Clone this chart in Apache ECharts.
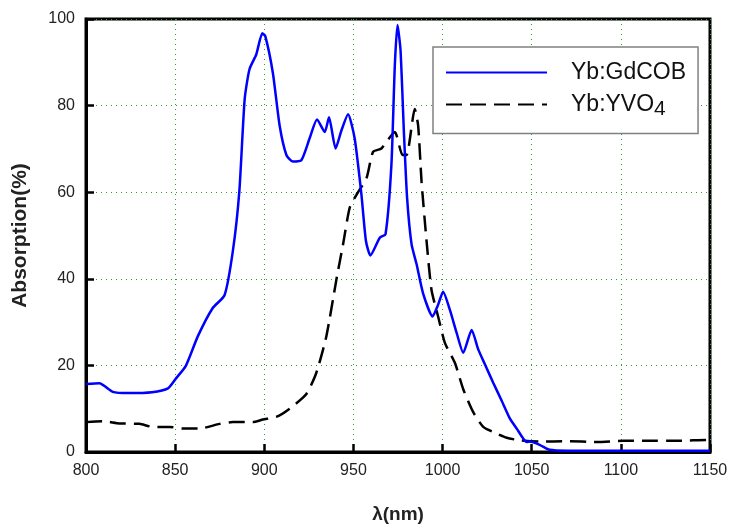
<!DOCTYPE html>
<html>
<head>
<meta charset="utf-8">
<script src="https://cdn.jsdelivr.net/npm/echarts@6/dist/echarts.min.js"></script>
<style>html,body{margin:0;padding:0;background:#fff}#c{width:731px;height:529px}</style>
</head>
<body>
<div id="c"></div>
<script>
// Wavelength (nm) and absorption (%)
const gdcobX = [800, 807.5, 815, 824, 837, 846, 850.5, 856, 862.7, 871, 877.7, 882.4, 886, 889, 891.7, 895.5, 898.9, 900.6, 904.8, 908.6, 912.4, 916, 920.8, 925.4, 929.6, 933.9, 936.3, 940, 943.3, 947, 950.7, 954.5, 957, 959.5, 964.8, 968, 971.3, 973.2, 974.7, 976.4, 978.3, 980.1, 982.6, 985.4, 989.1, 994.4, 997.5, 1000.3, 1004.1, 1007.9, 1011.6, 1016.3, 1020, 1023.8, 1028.4, 1033.1, 1037.8, 1041.6, 1047.2, 1049, 1054.7, 1060, 1070, 1085, 1100, 1115, 1130, 1150];
const gdcobY = [15.7, 15.9, 13.9, 13.6, 13.8, 14.7, 17, 19.9, 26.7, 33.2, 36.2, 46.5, 60.2, 81.5, 88.4, 91.8, 96.7, 96, 87.6, 75.4, 68.6, 67.1, 67.4, 72.4, 76.8, 73.9, 77.3, 70.1, 74.3, 78, 72.4, 59.4, 48.8, 45.4, 49.5, 50.3, 66.3, 89.1, 98.6, 92.9, 74, 58.7, 48, 43.4, 36.6, 31.3, 34, 37, 32.8, 27.5, 22.9, 28.2, 23.7, 20.2, 16, 11.9, 7.7, 5.4, 2.3, 2.4, 1.6, 0.5, 0.3, 0.3, 0.3, 0.3, 0.3, 0.3];

const yvoX = [800, 809.4, 818.7, 830, 837.4, 846.8, 854.3, 863.6, 874.9, 882.4, 893.6, 899.2, 906.7, 914.2, 923.6, 929.2, 934.8, 940.4, 944.2, 947.9, 951.7, 957.3, 961, 965.7, 973.2, 977.5, 979.8, 984.4, 986.3, 988.2, 991, 993.8, 997.5, 1001.3, 1006.9, 1011.6, 1017.2, 1022.8, 1028.4, 1036, 1043.4, 1054.7, 1069.6, 1086.5, 1101.5, 1114.6, 1133, 1148, 1150];
const yvoY = [6.9, 7.1, 6.6, 6.5, 5.8, 5.8, 5.4, 5.4, 6.5, 6.9, 6.9, 7.5, 8.1, 10, 13.4, 18.3, 26.7, 39.7, 48, 56.4, 59.4, 63.2, 69.3, 70.1, 73.9, 68.6, 68.6, 79.2, 75.4, 62.5, 48.8, 37.4, 31.3, 25.2, 20.6, 14.5, 9.2, 5.8, 4.6, 3.3, 2.7, 2.4, 2.5, 2.3, 2.6, 2.6, 2.6, 2.8, 2.8];

const xTicks = [800, 850, 900, 950, 1000, 1050, 1100, 1150];
const yTicks = [0, 20, 40, 60, 80, 100];

const pairs = (xs, ys) => xs.map((x, i) => [x, ys[i]]);
const FONT = 'Liberation Sans, Arial, sans-serif';

const chart = echarts.init(document.getElementById('c'), null, {renderer: 'canvas'});
chart.setOption({
  backgroundColor: '#fff',
  animation: false,
  grid: {left: 86, top: 19, right: 21, bottom: 72, show: true, borderColor: '#000', borderWidth: 3, backgroundColor: 'transparent'},
  legend: {
    orient: 'vertical', left: 433, top: 47,
    backgroundColor: '#fff',
    borderColor: '#808080', borderWidth: 1.5,
    padding: [14, 12, 14, 12],
    itemWidth: 101, itemHeight: 14, itemGap: 9,
    itemStyle: {opacity: 0},
    textStyle: {fontFamily: FONT, fontSize: 23, color: '#111', padding: [0, 0, 0, 19],
      rich: {sub: {fontFamily: FONT, fontSize: 21, color: '#111', verticalAlign: 'bottom', padding: [9, 0, 0, 0]}}},
    data: ['Yb:GdCOB', 'Yb:YVO4'],
    formatter: n => n === 'Yb:YVO4' ? 'Yb:YVO{sub|4}' : n
  },
  xAxis: {
    type: 'value', min: xTicks[0], max: xTicks[xTicks.length - 1], interval: 50,
    name: 'λ(nm)', nameLocation: 'middle', nameGap: 53,
    nameTextStyle: {fontFamily: FONT, fontSize: 19, fontWeight: 'bold', color: '#222'},
    axisLine: {show: true, lineStyle: {color: '#000', width: 3}},
    axisTick: {show: true, inside: true, length: 8, lineStyle: {color: '#000', width: 2.5}},
    axisLabel: {fontFamily: FONT, fontSize: 16, color: '#222', margin: 11, formatter: v => String(v)},
    splitLine: {show: true, lineStyle: {color: '#2e9e2e', type: [1, 4], width: 1}}
  },
  yAxis: {
    type: 'value', min: yTicks[0], max: yTicks[yTicks.length - 1], interval: 20,
    name: 'Absorption(%)', nameLocation: 'middle', nameGap: 55,
    nameTextStyle: {fontFamily: FONT, fontSize: 21, fontWeight: 'bold', color: '#222'},
    axisLine: {show: true, lineStyle: {color: '#000', width: 3}},
    axisTick: {show: true, inside: true, length: 8, lineStyle: {color: '#000', width: 2.5}},
    axisLabel: {fontFamily: FONT, fontSize: 16, color: '#222', margin: 11, formatter: v => String(v)},
    splitLine: {show: true, lineStyle: {color: '#2e9e2e', type: [1, 4], width: 1}}
  },
  series: [
    {name: 'Yb:GdCOB', type: 'line', data: pairs(gdcobX, gdcobY), showSymbol: false, symbol: 'none', smooth: 0.2,
      lineStyle: {color: '#0000ff', width: 2.5}, itemStyle: {color: '#0000ff'}, z: 3},
    {name: 'Yb:YVO4', type: 'line', data: pairs(yvoX, yvoY), showSymbol: false, symbol: 'none', smooth: 0.2,
      lineStyle: {color: '#000', width: 2.5, type: [16, 8]}, itemStyle: {color: '#000'}, z: 2}
  ]
});
</script>
</body>
</html>
